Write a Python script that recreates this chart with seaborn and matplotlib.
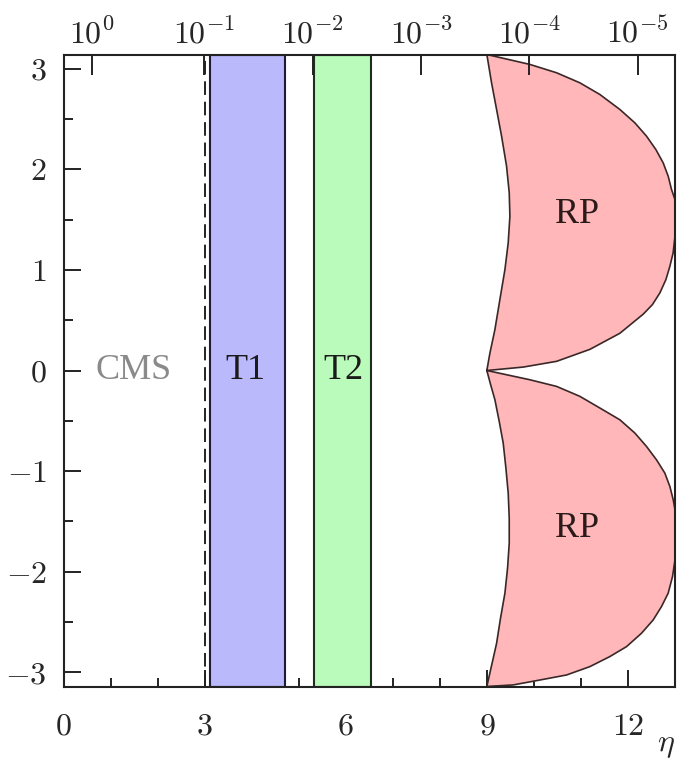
import numpy as np
import pandas as pd
import matplotlib
matplotlib.use("Agg")
import matplotlib.pyplot as plt
import seaborn as sns

# ---------------- data ----------------
band_names = ["T1", "T2"]
band_eta_min = [3.12, 5.32]
band_eta_max = [4.70, 6.54]
band_label_eta = [3.86, 5.95]
cms_edge_eta = 3.0
cms_label_eta = 1.49

rp_upper_eta = [9.00, 9.065, 9.171, 9.277, 9.384, 9.454, 9.490, 9.476, 9.419, 9.313, 9.207, 9.10, 9.00,
                9.915, 10.482, 10.978, 11.403, 11.828, 12.147, 12.394, 12.593, 12.749, 12.855, 12.926,
                13.00, 13.00, 12.96, 12.891, 12.806, 12.678, 12.52, 12.324, 11.828, 11.19, 10.482, 9.773, 9.00]
rp_upper_phi = [0.00, 0.173, 0.406, 0.705, 1.003, 1.268, 1.534, 1.766, 2.031, 2.330, 2.595, 2.860, 3.1416,
                3.043, 2.960, 2.860, 2.744, 2.595, 2.462, 2.330, 2.197, 2.064, 1.932, 1.799,
                1.70, 1.335, 1.169, 1.036, 0.903, 0.771, 0.655, 0.56, 0.37, 0.21, 0.091, 0.034, 0.00]
rp_lower_eta = [9.00, 9.915, 10.482, 10.978, 11.403, 11.828, 12.147, 12.394, 12.607, 12.784, 12.891,
                12.962, 13.00, 13.00, 12.947, 12.855, 12.713, 12.536, 12.288, 11.970, 11.615, 11.190,
                10.695, 10.128, 9.56, 9.00,
                9.207, 9.29, 9.384, 9.44, 9.476, 9.476, 9.454, 9.405, 9.348, 9.263, 9.171, 9.08, 9.00]
rp_lower_phi = [0.00, -0.092, -0.158, -0.257, -0.373, -0.490, -0.622, -0.755, -0.888, -1.020, -1.153,
                -1.285, -1.385, -1.883, -2.049, -2.214, -2.347, -2.480, -2.612, -2.745, -2.844, -2.944,
                -3.027, -3.077, -3.126, -3.1416,
                -2.712, -2.464, -2.214, -1.966, -1.717, -1.468, -1.219, -0.970, -0.722, -0.506, -0.290, -0.140, 0.00]
rp_label_eta = [10.92, 10.92]
rp_label_phi = [1.55, -1.57]

x_major = [0, 3, 6, 9, 12]
x_minor = [1, 2, 4, 5, 7, 8, 10, 11]
y_major = [-3, -2, -1, 0, 1, 2, 3]
y_minor = [-2.5, -1.5, -0.5, 0.5, 1.5, 2.5]
theta_ticks = [1e0, 1e-1, 1e-2, 1e-3, 1e-4, 1e-5]
theta_labels = [r"$10^{0}$", r"$10^{-1}$", r"$10^{-2}$", r"$10^{-3}$", r"$10^{-4}$", r"$10^{-5}$"]

# ---------------- style ----------------
sns.set_theme(style="ticks")
plt.rcParams["font.family"] = ["Liberation Serif", "DejaVu Serif"]
plt.rcParams["mathtext.fontset"] = "cm"

FS = 23
TFS = 26
EDGE = "#222222"
BLUE = "#b9b9fb"
GREEN = "#bafaba"
PINK = "#ffb7b9"

fig = plt.figure(figsize=(6.82, 7.64), dpi=100)
ax = fig.add_axes([63.5 / 682, 1 - 686.5 / 764, (675 - 63.5) / 682, (686.5 - 54.5) / 764])
ax.set_xlim(0, 13)
ax.set_ylim(-np.pi, np.pi)

# bands
for lo, hi, col, ecol in zip(band_eta_min, band_eta_max, [BLUE, GREEN], ["#1c1c3a", "#1c2e1c"]):
    ax.axvspan(lo, hi, facecolor=col, edgecolor=ecol, lw=1.5, zorder=1)

# CMS edge (dashed)
cms_df = pd.DataFrame({"eta": [cms_edge_eta, cms_edge_eta], "phi": [-np.pi, np.pi]})
sns.lineplot(data=cms_df, x="eta", y="phi", ax=ax, color="#222222", lw=1.4,
             linestyle=(0, (7, 3.5)), sort=False, estimator=None, zorder=3)

# RP lobes
for eta, phi in [(rp_upper_eta, rp_upper_phi), (rp_lower_eta, rp_lower_phi)]:
    ax.fill(eta, phi, facecolor=PINK, edgecolor="none", zorder=1)
    df = pd.DataFrame({"eta": eta, "phi": phi})
    sns.lineplot(data=df, x="eta", y="phi", ax=ax, color="#3a2828", lw=1.2,
                 sort=False, estimator=None, zorder=2)

# labels
ax.text(cms_label_eta, 0, "CMS", color="#8a8a8a", fontsize=TFS, ha="center", va="center")
for name, xe in zip(band_names, band_label_eta):
    ax.text(xe, 0, name, color="#1a1a1a", fontsize=TFS, ha="center", va="center")
for xe, yp in zip(rp_label_eta, rp_label_phi):
    ax.text(xe, yp, "RP", color="#2a1a1a", fontsize=TFS, ha="center", va="center")

# axes / ticks
ax.set_xticks(x_major)
ax.set_xticklabels([rf"${v}$" for v in x_major])
ax.set_xticks(x_minor, minor=True)
ax.set_yticks(y_major)
ax.set_yticklabels([rf"${v}$" if v >= 0 else rf"$-{abs(v)}$" for v in y_major])
ax.set_yticks(y_minor, minor=True)
ax.tick_params(which="major", direction="in", length=12, width=1.4, color=EDGE,
               labelsize=FS, top=False, right=False)
ax.tick_params(axis="x", which="major", pad=19)
ax.tick_params(axis="y", which="major", pad=12)
ax.tick_params(which="minor", direction="in", length=6.5, width=1.4, color=EDGE,
               top=False, right=False)
for s in ax.spines.values():
    s.set_color(EDGE)
    s.set_linewidth(1.5)
ax.set_xlabel("")
ax.set_ylabel("")
ax.set_xlabel(r"$\eta$", loc="right", fontsize=FS, labelpad=-8)

ax2 = ax.twiny()
ax2.set_xlim(0, 13)
top_pos = -np.log(np.tan(np.array(theta_ticks) / 2.0))
ax2.set_xticks(top_pos)
ax2.set_xticklabels(theta_labels)
ax2.tick_params(axis="x", which="major", direction="in", length=15, width=1.4,
                color=EDGE, labelsize=FS, pad=3)
ax2.tick_params(axis="x", which="minor", top=False, bottom=False)
for s in ax2.spines.values():
    s.set_visible(False)

fig.savefig("out.png", dpi=100)
